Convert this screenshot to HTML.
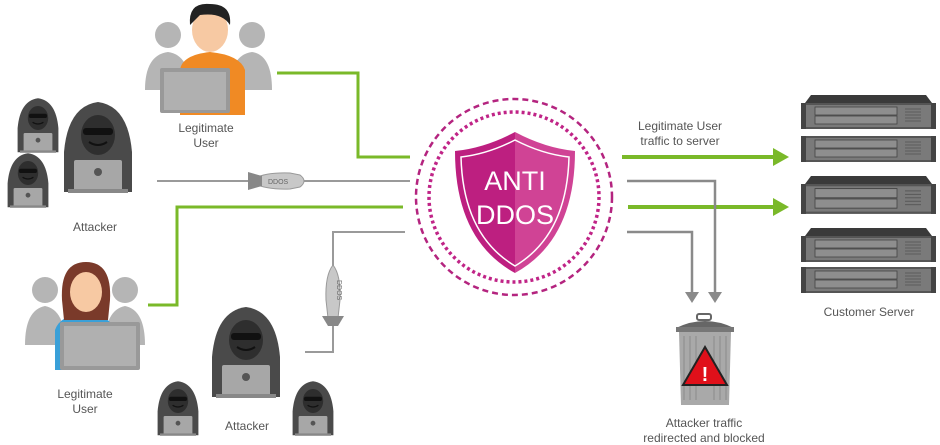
<!DOCTYPE html>
<html><head><style>
html,body{margin:0;padding:0;background:#fff;}
svg{display:block;font-family:"Liberation Sans",sans-serif;}
</style></head><body>
<svg width="940" height="445" viewBox="0 0 940 445" xmlns="http://www.w3.org/2000/svg">
<defs>
<g id="hacker">
  <path d="M-34,62 L-34,22 Q-30,-24 0,-28 Q30,-24 34,22 L34,62 Z" fill="#4a4a4a"/>
  <ellipse cx="0" cy="5" rx="17" ry="20" fill="#2e2e2e"/>
  <rect x="-15" y="-2" width="30" height="7" rx="3" fill="#111"/>
  <path d="M-9,12 Q0,18 9,12" stroke="#111" stroke-width="2" fill="none"/>
  <rect x="-24" y="30" width="48" height="31" rx="2" fill="#a7a7a7"/>
  <circle cx="0" cy="42" r="4" fill="#555"/>
  <rect x="-30" y="59" width="60" height="4" fill="#888"/>
</g>
<g id="cap"><path d="M10,0 L125,0 L131,8 L4,8 Z" fill="#3a3a3a"/></g>
<g id="unit">
  <rect x="0" y="0" width="135" height="26" fill="#555"/>
  <rect x="5" y="2" width="125" height="22" fill="#7a7a7a"/>
  <rect x="14" y="4" width="82" height="8" fill="#8e8e8e" stroke="#444" stroke-width=".8"/>
  <rect x="14" y="13" width="82" height="8" fill="#8e8e8e" stroke="#444" stroke-width=".8"/>
  <g stroke="#555" stroke-width=".8"><line x1="104" y1="6" x2="120" y2="6"/><line x1="104" y1="9" x2="120" y2="9"/><line x1="104" y1="12" x2="120" y2="12"/><line x1="104" y1="15" x2="120" y2="15"/><line x1="104" y1="18" x2="120" y2="18"/></g>
  <rect x="0" y="0" width="5" height="26" fill="#444"/><rect x="130" y="0" width="5" height="26" fill="#444"/>
</g>
</defs>

<g fill="none" stroke-width="3">
  <polyline points="277,73 358,73 358,157 410,157" stroke="#7ab929"/>
  <polyline points="148,305 177,305 177,207 403,207" stroke="#7ab929"/>
  <polyline points="157,181 410,181" stroke="#9a9a9a" stroke-width="2"/>
  <polyline points="305,352 333,352 333,232 405,232" stroke="#9a9a9a" stroke-width="2"/>
  <polyline points="622,157 775,157" stroke="#7ab929" stroke-width="4"/>
  <polyline points="628,207 775,207" stroke="#7ab929" stroke-width="4"/>
  <polyline points="627,181 715,181 715,294" stroke="#8a8a8a" stroke-width="2.5"/>
  <polyline points="627,232 692,232 692,294" stroke="#8a8a8a" stroke-width="2.5"/>
</g>
<polygon points="773,148 789,157 773,166" fill="#7ab929"/>
<polygon points="773,198 789,207 773,216" fill="#7ab929"/>
<polygon points="685,292 699,292 692,303" fill="#8a8a8a"/>
<polygon points="708,292 722,292 715,303" fill="#8a8a8a"/>

<g>
  <path d="M250,181 Q262,172 290,173 L300,175 Q308,181 300,187 L290,189 Q262,190 250,181 Z" fill="#c8c8c8" stroke="#999"/>
  <polygon points="248,172 262,176 262,186 248,190" fill="#888"/>
  <text x="268" y="184" font-size="7" fill="#666">DDOS</text>
</g>
<g>
  <path d="M333,265 Q325,275 326,300 L328,318 L338,318 L340,300 Q341,275 333,265 Z" fill="#c8c8c8" stroke="#999"/>
  <polygon points="322,316 344,316 338,326 328,326" fill="#888"/>
  <text x="337" y="280" font-size="7" fill="#666" transform="rotate(90 337 280)">DDOS</text>
</g>

<circle cx="514" cy="197" r="98" fill="none" stroke="#b4247f" stroke-width="2.5" stroke-dasharray="6,4"/>
<circle cx="514" cy="197" r="85" fill="none" stroke="#c02487" stroke-width="3.5" stroke-dasharray="3,3"/>
<path d="M515,132 Q485,148 455,151 Q455,240 515,273 Z" fill="#bd1f80"/>
<path d="M515,132 Q545,148 575,151 Q575,240 515,273 Z" fill="#d04395"/>
<path d="M515,140 Q488,154 461,157 Q463,235 515,266 Q567,235 569,157 Q542,154 515,140 Z" fill="none" stroke="#fff" stroke-width="1.5"/>
<text x="515" y="190" font-size="27" fill="#fff" text-anchor="middle">ANTI</text>
<text x="515" y="224" font-size="27" fill="#fff" text-anchor="middle">DDOS</text>

<g>
  <circle cx="168" cy="35" r="13" fill="#b5b5b5"/><path d="M145,90 Q145,55 168,52 Q190,55 190,90Z" fill="#b5b5b5"/>
  <circle cx="252" cy="35" r="13" fill="#b5b5b5"/><path d="M230,90 Q230,55 252,52 Q272,55 272,90Z" fill="#b5b5b5"/>
  <path d="M180,115 L180,70 Q182,55 210,52 Q240,55 245,70 L245,115Z" fill="#f08a24"/>
  <ellipse cx="210" cy="30" rx="18" ry="22" fill="#f7c9a3"/>
  <path d="M190,25 Q188,2 210,4 Q232,4 230,25 Q222,12 200,15Z" fill="#222"/>
  <rect x="160" y="68" width="70" height="45" rx="2" fill="#999"/>
  <rect x="164" y="72" width="62" height="38" fill="#b0b0b0"/>
</g>
<text x="206" y="132" font-size="12" fill="#555" text-anchor="middle">Legitimate</text>
<text x="206" y="147" font-size="12" fill="#555" text-anchor="middle">User</text>

<use href="#hacker" transform="translate(38,115) scale(0.6)"/>
<use href="#hacker" transform="translate(28,170) scale(0.6)"/>
<use href="#hacker" transform="translate(98,130)"/>
<text x="95" y="231" font-size="12" fill="#555" text-anchor="middle">Attacker</text>

<g>
  <circle cx="45" cy="290" r="13" fill="#b5b5b5"/><path d="M25,345 Q25,310 45,306 Q65,310 65,345Z" fill="#b5b5b5"/>
  <circle cx="125" cy="290" r="13" fill="#b5b5b5"/><path d="M105,345 Q105,310 125,306 Q145,310 145,345Z" fill="#b5b5b5"/>
  <path d="M55,370 L55,330 Q60,315 85,313 Q110,315 115,330 L115,370Z" fill="#3aa0d8"/>
  <path d="M62,300 Q60,262 86,262 Q112,262 110,300 L108,320 L64,320Z" fill="#7a3a2a"/>
  <ellipse cx="86" cy="292" rx="16" ry="20" fill="#f7c9a3"/>
  <rect x="60" y="322" width="80" height="48" rx="2" fill="#999"/>
  <rect x="64" y="326" width="72" height="40" fill="#b0b0b0"/>
</g>
<text x="85" y="398" font-size="12" fill="#555" text-anchor="middle">Legitimate</text>
<text x="85" y="413" font-size="12" fill="#555" text-anchor="middle">User</text>

<use href="#hacker" transform="translate(246,335)"/>
<use href="#hacker" transform="translate(178,398) scale(0.6)"/>
<use href="#hacker" transform="translate(313,398) scale(0.6)"/>
<text x="247" y="430" font-size="12" fill="#555" text-anchor="middle">Attacker</text>

<use href="#cap" transform="translate(801,95)"/>
<use href="#unit" transform="translate(801,103)"/>
<use href="#unit" transform="translate(801,136)"/>
<use href="#cap" transform="translate(801,176)"/>
<use href="#unit" transform="translate(801,184) scale(1,1.15)"/>
<use href="#cap" transform="translate(801,228)"/>
<use href="#unit" transform="translate(801,236)"/>
<use href="#unit" transform="translate(801,267)"/>
<text x="869" y="316" font-size="12" fill="#555" text-anchor="middle">Customer Server</text>
<text x="680" y="130" font-size="12" fill="#555" text-anchor="middle">Legitimate User</text>
<text x="680" y="145" font-size="12" fill="#555" text-anchor="middle">traffic to server</text>

<rect x="697" y="314" width="14" height="6" rx="2" fill="none" stroke="#666" stroke-width="2"/>
<path d="M676,328 Q705,314 734,328 Z" fill="#666"/>
<rect x="676" y="327" width="58" height="5" fill="#777"/>
<path d="M679,332 L731,332 L729,405 L681,405 Z" fill="#a9a9a9"/>
<g stroke="#8a8a8a" stroke-width="1">
<line x1="684" y1="336" x2="684" y2="400"/><line x1="690" y1="336" x2="690" y2="400"/><line x1="696" y1="336" x2="696" y2="400"/><line x1="714" y1="336" x2="714" y2="400"/><line x1="720" y1="336" x2="720" y2="400"/><line x1="726" y1="336" x2="726" y2="400"/>
</g>
<polygon points="705,347 683,385 727,385" fill="#e0101a" stroke="#222" stroke-width="2"/>
<text x="705" y="381" font-size="20" font-weight="bold" fill="#fff" text-anchor="middle">!</text>
<text x="704" y="427" font-size="12" fill="#555" text-anchor="middle">Attacker traffic</text>
<text x="704" y="442" font-size="12" fill="#555" text-anchor="middle">redirected and blocked</text>
</svg>
</body></html>
